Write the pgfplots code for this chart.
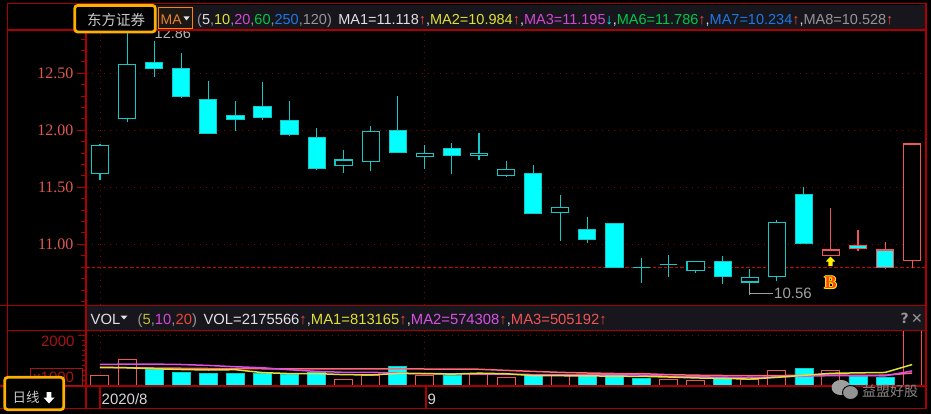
\documentclass[border=0pt]{standalone}
\usepackage{fontspec}
\setmainfont{Liberation Sans}
\newfontfamily\cjk{Noto Sans CJK SC}
\newfontfamily\serifnum{Liberation Serif}
\newfontfamily\djv{DejaVu Sans}
\usepackage{pgfplots}
\usepackage{pgfplotstable}
\pgfplotsset{compat=1.18}

\newcommand\fs[1]{\fontsize{#1}{#1}\selectfont}
\newcommand\tc[2]{\textcolor{#1}{#2}}

\definecolor{framered} {RGB}{170,  0,  0}
\definecolor{gridred}  {RGB}{140,  0,  0}
\definecolor{levelred} {RGB}{210,  0,  0}
\definecolor{labred}   {RGB}{225, 90, 80}
\definecolor{voldred}  {RGB}{165, 20, 20}
\definecolor{candcyan} {RGB}{  0,255,255}
\definecolor{cyanedge} {RGB}{ 20,200,200}
\definecolor{candred}  {RGB}{240, 85, 85}
\definecolor{bandgray} {RGB}{ 22, 22, 28}
\definecolor{orangebox}{RGB}{255,175,  0}
\definecolor{hgray}    {RGB}{150,150,150}
\definecolor{hwhite}   {RGB}{225,225,225}
\definecolor{myellow}  {RGB}{225,225, 50}
\definecolor{mmag}     {RGB}{215, 70,215}
\definecolor{mgreen}   {RGB}{  0,200, 70}
\definecolor{mblue}    {RGB}{ 30,120,230}
\definecolor{arrred}   {RGB}{235, 70, 60}
\definecolor{volyellow}{RGB}{225,225, 60}
\definecolor{volmag}   {RGB}{220, 80,230}
\definecolor{volpink}  {RGB}{255,105,120}

% daily candles: index, open, high, low, close
\pgfplotstableread{
i o h l c
0 11.62 11.88 11.56 11.87
1 12.10 12.86 12.07 12.58
9 11.69 11.83 11.63 11.74
10 11.73 12.04 11.64 11.99
12 11.77 11.87 11.66 11.80
14 11.78 11.98 11.74 11.80
15 11.60 11.73 11.59 11.66
17 11.28 11.43 11.03 11.32
20 10.80 10.88 10.66 10.80
21 10.82 10.91 10.71 10.82
22 10.77 10.85 10.75 10.85
24 10.67 10.78 10.56 10.71
25 10.72 11.21 10.68 11.19
}\candA
\pgfplotstableread{
i o h l c
2 12.60 12.78 12.47 12.54
3 12.54 12.68 12.28 12.30
4 12.27 12.43 11.97 11.97
5 12.13 12.26 11.99 12.10
6 12.21 12.42 12.09 12.11
7 12.09 12.26 11.95 11.96
8 11.94 12.02 11.65 11.67
11 12.00 12.30 11.81 11.81
13 11.84 11.89 11.62 11.78
16 11.62 11.70 11.27 11.27
18 11.13 11.24 11.01 11.04
19 11.18 11.18 10.79 10.80
23 10.85 10.90 10.65 10.72
26 11.44 11.50 11.01 11.01
}\candB
\pgfplotstableread{
i o h l c
27 10.90 11.32 10.90 10.95
30 10.86 11.88 10.79 11.88
}\candR
\pgfplotstableread{
i o h l c
28 10.99 11.13 10.94 10.96
29 10.95 11.02 10.78 10.80
}\candC

% volume, thousands
\pgfplotstableread{
i v
0 386
1 1035
9 239
10 398
12 398
14 426
15 290
17 370
21 239
22 187
24 239
25 597
27 585
30 2176
}\volR
\pgfplotstableread{
i v
2 625
3 505
4 450
5 450
6 450
7 426
8 505
11 744
13 398
16 370
18 370
19 370
20 251
23 267
26 649
28 358
29 318
}\volC
\pgfplotstableread{
i m5 m10 m20
0 710 820 700
1 690 836 690
2 650 836 680
3 620 820 670
4 600 783 660
5 613 730 655
6 496 690 650
7 456 610 650
8 456 544 650
9 414 507 650
10 404 508 648
11 462 479 645
12 457 457 640
13 435 446 636
14 473 443 630
15 451 427 585
16 376 419 545
17 371 414 505
18 365 400 480
19 354 413 460
20 346 399 454
21 320 348 414
22 283 327 392
23 263 314 380
24 237 295 369
25 306 326 377
26 388 354 387
27 467 375 395
28 486 374 387
29 501 369 391
30 817 562 480
}\volMA

\pgfdeclareplotmark{nothing}{}
\pgfplotsset{
  candle/.style={
    only marks, mark=nothing, scatter,
    visualization depends on={\thisrow{h}-\thisrow{o} \as \kH},
    visualization depends on={\thisrow{l}-\thisrow{o} \as \kL},
    visualization depends on={\thisrow{c}-\thisrow{o} \as \kC},
    scatter/@pre marker code/.code={
      \draw[#1wick] (axis direction cs:0,\kL) -- (axis direction cs:0,\kH);
      \draw[#1body] (-8.6pt,0pt) rectangle ([xshift=8.6pt]axis direction cs:0,\kC);
    },
    scatter/@post marker code/.code={},
  },
}
\tikzset{
  Awick/.style={draw=cyanedge, line width=1.1pt},
  Abody/.style={draw=cyanedge, fill=black, line width=1.1pt},
  Bwick/.style={draw=cyanedge, line width=1.1pt},
  Bbody/.style={draw=cyanedge, fill=candcyan, line width=0.8pt},
  Rwick/.style={draw=candred, line width=1.1pt},
  Rbody/.style={draw=candred, fill=black, line width=1.1pt},
  Cwick/.style={draw=candred, line width=1.1pt},
  Cbody/.style={draw=candred, fill=candcyan, line width=1.1pt},
}

\begin{document}
\begin{tikzpicture}[x=1pt, y=-1pt]
\fill[black] (0,0) rectangle (931,414);
\useasboundingbox (0,0) rectangle (931,414);

% level line at 10.80 (drawn under the candles)
\draw[levelred, line width=1.2pt, dash pattern=on 3.5pt off 2pt] (86,267.1) -- (926,267.1);

% price panel
\begin{axis}[
    at={(86pt,-305pt)}, anchor=south west,
    scale only axis, width=840pt, height=275pt,
    xmin=-0.517, xmax=30.513, ymin=10.468, ymax=12.88,
    axis line style={draw=none},
    xtick=\empty,
    ytick={11,11.5,12,12.5},
    minor ytick={10.5,10.6,10.7,10.8,10.9,11.1,11.2,11.3,11.4,11.6,11.7,11.8,11.9,12.1,12.2,12.3,12.4,12.6,12.7,12.8},
    ytick pos=left, tick align=outside,
    major tick length=9pt, minor tick length=4.5pt,
    tick style={draw=framered, line width=0.9pt},
    ymajorgrids,
    major grid style={draw=gridred, line width=0.8pt, dash pattern=on 1pt off 5pt},
    /pgf/number format/assume math mode=true,
    yticklabel style={font=\serifnum\fs{16}, text=labred,
        /pgf/number format/fixed, /pgf/number format/fixed zerofill,
        /pgf/number format/precision=2},
    extra x ticks={0,12}, extra x tick labels={},
    extra x tick style={xmajorgrids=true, tick style={draw=none}},
]
\addplot[candle=A] table[x=i, y=o] {\candA};
\addplot[candle=B] table[x=i, y=o] {\candB};
\addplot[candle=R] table[x=i, y=o] {\candR};
\addplot[candle=C] table[x=i, y=o] {\candC};
\end{axis}

% volume panel
\begin{axis}[
    at={(86pt,-385pt)}, anchor=south west,
    scale only axis, width=840pt, height=54.5pt,
    xmin=-0.517, xmax=30.513, ymin=0, ymax=2180,
    axis line style={draw=none},
    xtick=\empty,
    ytick={2000},
    minor ytick={200,400,600,800,1000,1200,1400,1600,1800},
    ytick pos=left, tick align=outside,
    major tick length=8pt, minor tick length=4pt,
    tick style={draw=framered, line width=0.9pt},
    ymajorgrids,
    major grid style={draw=gridred, line width=0.8pt, dash pattern=on 1pt off 5pt},
    /pgf/number format/assume math mode=true,
    yticklabel style={font=\fs{15}, text=voldred, yshift=-6pt,
        /pgf/number format/fixed, /pgf/number format/1000 sep={}},
    extra x ticks={0,12}, extra x tick labels={},
    extra x tick style={xmajorgrids=true, tick style={draw=none}},
]
\addplot[ybar, bar width=18pt, bar shift=0pt, draw=candred, fill=black, line width=1pt] table[x=i, y=v] {\volR};
\addplot[ybar, bar width=18pt, bar shift=0pt, draw=cyanedge, fill=candcyan, line width=0.6pt] table[x=i, y=v] {\volC};
\addplot[volpink, line width=1.5pt] table[x=i, y=m20] {\volMA};
\addplot[volmag, line width=1.5pt] table[x=i, y=m10] {\volMA};
\addplot[volyellow, line width=1.5pt] table[x=i, y=m5] {\volMA};
\end{axis}

% annotations on the price panel
\node[anchor=base west, inner sep=0pt, text=hwhite!80!black, font=\fs{14.5}] at (154.5,38.5) {12.86};
\draw[hgray!90!white, line width=1pt] (749,284) -- (749,293.5) -- (773,293.5);
\node[anchor=base west, inner sep=0pt, text=hgray!90!white, font=\fs{15}] at (774,298.5) {10.56};
\fill[yellow] (830.5,256.5) -- (835.2,261.5) -- (832.6,261.5) -- (832.6,266) -- (828.4,266) -- (828.4,261.5) -- (825.8,261.5) -- cycle;
\foreach \dx/\dy in {-1/0,1/0,0/-1,0/1,-0.8/-0.8,0.8/0.8,-0.8/0.8,0.8/-0.8}
  \node[inner sep=0pt, text=yellow!90!orange, font=\serifnum\bfseries\fs{18}] at (830.5+\dx,283+\dy) {B};
\node[inner sep=0pt, text={rgb,255:red,255;green,70;blue,20}, font=\serifnum\bfseries\fs{18}] at (830.5,283) {B};

% header bands
\fill[bandgray] (86,5) rectangle (926,29.5);
\fill[bandgray] (86,306) rectangle (926,330);

% frame lines
\begin{scope}[framered, line width=1.3pt]
\draw (7.5,3.5) -- (926,3.5);
\draw (7.5,30) -- (926,30);
\draw (0,305.5) -- (926,305.5);
\draw (7.5,330.5) -- (926,330.5);
\draw (0,386) -- (926,386);
\draw (0,408.5) -- (926,408.5);
\draw (7.5,3.5) -- (7.5,408.5);
\draw (86,30) -- (86,408.5);
\draw (926,3.5) -- (926,408.5);
\draw (100,386) -- (100,408.5);
\draw (426,386) -- (426,408.5);
\end{scope}

% top header
\draw[orangebox!75!red, fill={rgb,255:red,28;green,24;blue,22}, line width=0.9pt] (158,7) rectangle (192.5,28);
\node[anchor=base west, inner sep=0pt, text={rgb,255:red,235;green,130;blue,40}, font=\fs{14}] at (160.5,24.5) {MA};
\fill[hwhite] (183.5,16.5) -- (189.5,16.5) -- (186.5,20.5) -- cycle;
\begin{scope}
\clip (195,4) rectangle (922,30);
\node[anchor=base west, inner sep=0pt, font=\fs{14.5}] at (197,25) {%
\tc{hgray}{(}\tc{hwhite}{5}\tc{hgray}{,}\tc{myellow}{10}\tc{hgray}{,}\tc{mmag}{20}\tc{hgray}{,}\tc{mgreen}{60}\tc{hgray}{,}\tc{mblue}{250}\tc{hgray}{,120)}\hspace{0.45em}%
\tc{hwhite}{MA1=11.118}\tc{arrred}{↑}\tc{hwhite}{,}\tc{myellow}{MA2=10.984}\tc{arrred}{↑}\tc{hwhite}{,}%
\tc{mmag}{MA3=11.195}\tc{candcyan}{↓}\tc{hwhite}{,}\tc{mgreen}{MA6=11.786}\tc{arrred}{↑}\tc{hwhite}{,}%
\tc{mblue}{MA7=10.234}\tc{arrred}{↑}\tc{hwhite}{,}\tc{hgray}{MA8=10.528}\tc{arrred}{↑}};
\end{scope}
\draw[orangebox, line width=2.8pt, fill=black, rounded corners=3pt] (74.8,5.4) rectangle (155.3,32);
\node[anchor=base west, inner sep=0pt, text=hwhite!90!black, font=\cjk\fs{14.5}] at (87,25.5) {东方证券};

% volume header
\node[anchor=base west, inner sep=0pt, text=hwhite, font=\fs{14.8}] at (90.5,324) {VOL};
\fill[hwhite] (120.5,315.5) -- (127.5,315.5) -- (124,319.5) -- cycle;
\node[anchor=base west, inner sep=0pt, font=\fs{14.8}] at (137.5,324) {%
\tc{hgray}{(}\tc{myellow!85!black}{5}\tc{hgray}{,}\tc{mmag}{10}\tc{hgray}{,}\tc{arrred}{20}\tc{hgray}{)}\hspace{0.45em}%
\tc{hwhite}{VOL=2175566}\tc{arrred}{↑}\tc{hwhite}{,}\tc{myellow}{MA1=813165}\tc{arrred}{↑}\tc{hwhite}{,}%
\tc{volmag}{MA2=574308}\tc{arrred}{↑}\tc{hwhite}{,}\tc{candred}{MA3=505192}\tc{arrred}{↑}};
\node[anchor=base east, inner sep=0pt, text=hgray, font=\djv\bfseries\fs{14}] at (923,323.5) {?\,✕};

% left column and date row
\draw[voldred, line width=1pt] (30,368.5) rectangle (82,385);
\node[anchor=base west, inner sep=0pt, text=voldred, font=\fs{15}] at (33,382) {x1000};
\draw[orangebox, line width=2.8pt, fill=black, rounded corners=3pt] (4.7,377.3) rectangle (63.7,409.7);
\node[anchor=base west, inner sep=0pt, text=hwhite!90!black, font=\cjk\fs{13.5}] at (12.5,402) {日线};
\fill[white] (49,403.5) -- (54.5,397.5) -- (51.3,397.5) -- (51.3,392) -- (46.7,392) -- (46.7,397.5) -- (43.5,397.5) -- cycle;
\node[anchor=base west, inner sep=0pt, text=hwhite!95!black, font=\fs{15}] at (101.5,404) {2020/8};
\node[anchor=base west, inner sep=0pt, text=hwhite!95!black, font=\fs{15}] at (427.5,404) {9};

% watermark
\fill[gray!75!white] (841,387.5) ellipse [x radius=9.5, y radius=7.6];
\filldraw[fill=gray!85!white, draw=black, line width=0.9pt] (850.5,392.5) ellipse [x radius=8, y radius=7];
\node[anchor=base west, inner sep=0pt, text=gray!95!white, font=\cjk\fs{14}] at (862,396) {益盟好股};
\end{tikzpicture}
\end{document}
